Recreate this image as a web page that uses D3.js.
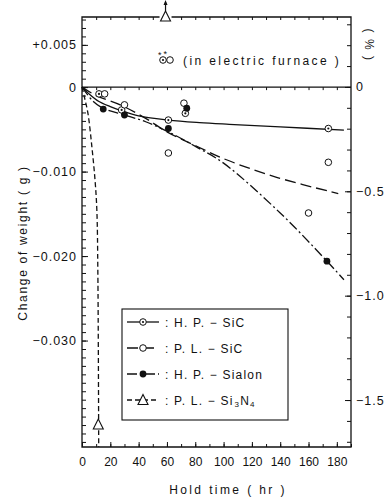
<!DOCTYPE html>
<html><head><meta charset="utf-8">
<script src="https://cdn.jsdelivr.net/npm/d3@7"></script>
<style>
body{margin:0;background:#fff}
text{font-family:"Liberation Sans",Arial,sans-serif;fill:#111}
</style>
</head><body><svg id="chart" width="388" height="500"></svg>
<script>
// Measured points: hold time (hr) and change of weight (g)
const hpSicT = [12, 28, 61, 73, 174];
const hpSicW = [-0.0008, -0.0027, -0.0039, -0.0031, -0.0049];
const plSicT = [16, 30, 61, 72, 160, 174];
const plSicW = [-0.0008, -0.0021, -0.0078, -0.0019, -0.0149, -0.0089];
const sialonT = [15, 30, 61, 74, 173];
const sialonW = [-0.0026, -0.0033, -0.0049, -0.0025, -0.0206];
const si3n4T = [11.5];
const si3n4W = [-0.0400];
const si3n4AboveT = [59];   // gain beyond the top of the scale

// Trend curves through each series
const hpSicCurveT = [0, 5, 12, 20, 28, 40, 61, 83, 104, 140, 185];
const hpSicCurveW = [0, -0.0008, -0.0017, -0.0023, -0.0028, -0.0034, -0.0039, -0.0042, -0.0044, -0.0047, -0.0051];
const plSicCurveT = [0, 10, 27, 45, 60, 81, 102, 138, 181];
const plSicCurveW = [0, -0.0010, -0.0021, -0.0037, -0.0053, -0.0070, -0.0086, -0.0107, -0.0126];
const sialonCurveT = [0, 8, 15, 30, 45, 61, 81, 100, 140, 173, 185];
const sialonCurveW = [0, -0.0017, -0.0025, -0.0033, -0.0041, -0.0053, -0.0071, -0.0090, -0.0149, -0.0206, -0.0228];
const si3n4CurveT = [0, 2, 4.2, 7, 9.2, 10.5, 11.2, 11.8];
const si3n4CurveW = [0, -0.0014, -0.0031, -0.0071, -0.0110, -0.0146, -0.0220, -0.0426];

// Axis ticks
const xTickLabels = [0, 20, 40, 60, 80, 100, 120, 140, 160, 180];
const yTickLabels = [0.005, 0, -0.010, -0.020, -0.030];
const pctTickLabels = [0, -0.5, -1.0, -1.5];

const legendNames = ["H. P. − SiC", "P. L. − SiC", "H. P. − Sialon", "P. L. − Si3N4"];

const svg = d3.select("#chart");
const L = 82, R = 351, T = 17, B = 447;

const x = d3.scaleLinear().domain([0, 190]).range([L, R]);
const y = d3.scaleLinear().domain([-0.0426, 0.0083]).range([B, T]);
const pct = d3.scaleLinear().domain([-1.725, 0.335]).range([B, T]);

const zip = (ts, ws) => ts.map((t, i) => ({t, w: ws[i]}));

// frame (top edge interrupted by the off-scale marker)
const gapX = x(si3n4AboveT[0]);
const frame = svg.append("g").attr("stroke", "#111").attr("stroke-width", 1.3).attr("fill", "none");
frame.append("path").attr("d", `M${gapX - 6},${T}H${L}V${B}H${R}V${T}H${gapX + 6}`);
// zero line
frame.append("line").attr("x1", L).attr("x2", R).attr("y1", y(0)).attr("y2", y(0));

function styleAxis(g) {
  g.select(".domain").remove();
  g.selectAll("line").attr("stroke", "#111").attr("stroke-width", 1);
  g.selectAll("text").attr("font-size", 12).attr("fill", "#111").attr("font-family", '"Liberation Sans",Arial,sans-serif');
}

const minorX = d3.range(0, 191, 10);
// bottom axis
svg.append("g").attr("transform", `translate(0,${B})`)
  .call(d3.axisBottom(x).tickValues(minorX).tickFormat("").tickSizeInner(-3).tickSizeOuter(0)).call(styleAxis);
svg.append("g").attr("transform", `translate(0,${B})`)
  .call(d3.axisBottom(x).tickValues(xTickLabels).tickFormat(d3.format("d")).tickSizeInner(-5).tickSizeOuter(0).tickPadding(10))
  .call(styleAxis);
// top edge ticks
svg.append("g").attr("transform", `translate(0,${T})`)
  .call(d3.axisTop(x).tickValues(minorX.filter(d => d > 0 && d < 190 && Math.abs(x(d) - gapX) > 7)).tickFormat("").tickSizeInner(-3).tickSizeOuter(0)).call(styleAxis);
// zero line ticks
svg.append("g").attr("transform", `translate(0,${y(0)})`)
  .call(d3.axisBottom(x).tickValues(minorX.filter(d => d > 0 && d < 190)).tickFormat("").tickSizeInner(3).tickSizeOuter(0)).call(styleAxis);

// left axis (g)
const minorY = d3.range(-42, 9).map(d => d / 1000);
svg.append("g").attr("transform", `translate(${L},0)`)
  .call(d3.axisLeft(y).tickValues(minorY).tickFormat("").tickSizeInner(-4).tickSizeOuter(0)).call(styleAxis);
svg.append("g").attr("transform", `translate(${L},0)`)
  .call(d3.axisLeft(y).tickValues(yTickLabels).tickSizeInner(-6).tickSizeOuter(0).tickPadding(5)
    .tickFormat(d => d === 0 ? "0" : d > 0 ? "+" + d3.format(".3f")(d) : "−" + d3.format(".3f")(-d)))
  .call(styleAxis)
  .selectAll("text").attr("font-size", 12.5).attr("letter-spacing", 1);

// right axis (%)
const minorP = d3.range(-17, 4).map(d => d / 10);
svg.append("g").attr("transform", `translate(${R},0)`)
  .call(d3.axisRight(pct).tickValues(minorP).tickFormat("").tickSizeInner(-4).tickSizeOuter(0)).call(styleAxis);
svg.append("g").attr("transform", `translate(${R},0)`)
  .call(d3.axisRight(pct).tickValues(pctTickLabels).tickSizeInner(-6).tickSizeOuter(0).tickPadding(5)
    .tickFormat(d => d === 0 ? "0" : "−" + d3.format(".1f")(-d)))
  .call(styleAxis)
  .selectAll("text").attr("font-size", 12.5).attr("letter-spacing", 1);

// axis titles
svg.append("text").attr("transform", "translate(27,243) rotate(-90)").attr("text-anchor", "middle")
  .attr("font-size", 12).attr("letter-spacing", 1.7).text("Change of weight ( g )");
svg.append("text").attr("x", 228).attr("y", 494).attr("text-anchor", "middle")
  .attr("font-size", 12).attr("letter-spacing", 2.4).text("Hold time ( hr )");
svg.append("text").attr("transform", "translate(365,45) rotate(90)").attr("text-anchor", "middle")
  .attr("font-size", 12).attr("letter-spacing", 1.5).text("( % )");

// curves
const line = d3.line().x(d => x(d.t)).y(d => y(d.w)).curve(d3.curveCatmullRom.alpha(0.5));
const curves = [
  {pts: zip(hpSicCurveT, hpSicCurveW), dash: null},
  {pts: zip(plSicCurveT, plSicCurveW), dash: "11,5"},
  {pts: zip(sialonCurveT, sialonCurveW), dash: "10,3,2,3"},
  {pts: zip(si3n4CurveT, si3n4CurveW), dash: "5,3"}
];
const plot = svg.append("g");
curves.forEach(c => {
  plot.append("path").datum(c.pts).attr("d", line).attr("fill", "none")
    .attr("stroke", "#111").attr("stroke-width", 1.3).attr("stroke-dasharray", c.dash);
});

// marker drawing
function marker(g, kind, cx, cy) {
  if (kind === "dot") {
    g.append("circle").attr("cx", cx).attr("cy", cy).attr("r", 3.3).attr("fill", "#fff").attr("stroke", "#111").attr("stroke-width", 1);
    g.append("circle").attr("cx", cx).attr("cy", cy).attr("r", 1.1).attr("fill", "#111");
  } else if (kind === "open") {
    g.append("circle").attr("cx", cx).attr("cy", cy).attr("r", 3.3).attr("fill", "#fff").attr("stroke", "#111").attr("stroke-width", 1);
  } else if (kind === "filled") {
    g.append("circle").attr("cx", cx).attr("cy", cy).attr("r", 3.4).attr("fill", "#111");
  } else if (kind === "tri") {
    g.append("path").attr("d", `M${cx},${cy - 6}L${cx + 5},${cy + 4}L${cx - 5},${cy + 4}Z`)
      .attr("fill", "#fff").attr("stroke", "#111").attr("stroke-width", 1.1);
  }
}
zip(hpSicT, hpSicW).forEach(d => marker(plot, "dot", x(d.t), y(d.w)));
zip(plSicT, plSicW).forEach(d => marker(plot, "open", x(d.t), y(d.w)));
zip(sialonT, sialonW).forEach(d => marker(plot, "filled", x(d.t), y(d.w)));
zip(si3n4T, si3n4W).forEach(d => marker(plot, "tri", x(d.t), y(d.w)));

// off-scale marker with arrow on the top edge
si3n4AboveT.forEach(t => {
  const cx = x(t);
  marker(svg, "tri", cx, T);
  svg.append("line").attr("x1", cx).attr("x2", cx).attr("y1", T - 6).attr("y2", 2).attr("stroke", "#111").attr("stroke-width", 1.2);
  svg.append("path").attr("d", `M${cx},0L${cx + 2},5L${cx - 2},5Z`).attr("fill", "#111");
});

// electric furnace note
const note = svg.append("g");
const nx = 163, ny = 60;
note.append("text").attr("x", nx - 5).attr("y", ny - 2).attr("font-size", 9).text("*");
note.append("text").attr("x", nx + 0.5).attr("y", ny - 3).attr("font-size", 9).text("*");
marker(note, "dot", nx, ny);
marker(note, "open", nx + 7, ny);
note.append("text").attr("x", 183).attr("y", 65).attr("font-size", 12).attr("letter-spacing", 2.4)
  .text("(in electric furnace )");

// legend
const lg = svg.append("g");
lg.append("rect").attr("x", 122).attr("y", 309).attr("width", 166).attr("height", 111)
  .attr("fill", "#fff").attr("stroke", "#111").attr("stroke-width", 1.1);
const kinds = ["dot", "open", "filled", "tri"];
legendNames.forEach((name, i) => {
  const ly = 322 + i * 26;
  lg.append("line").attr("x1", 127).attr("x2", 159).attr("y1", ly).attr("y2", ly)
    .attr("stroke", "#111").attr("stroke-width", 1.3).attr("stroke-dasharray", curves[i].dash);
  marker(lg, kinds[i], 143, ly + (kinds[i] === "tri" ? 0.5 : 0));
  const t = lg.append("text").attr("x", 165).attr("y", ly + 4.5).attr("font-size", 12).attr("letter-spacing", 1.2);
  if (name.includes("Si3N4")) {
    t.append("tspan").text(": P. L. − Si");
    t.append("tspan").attr("font-size", 8).attr("dy", 2).attr("dx", 1).text("3");
    t.append("tspan").attr("dy", -2).text("N");
    t.append("tspan").attr("font-size", 8).attr("dy", 2).text("4");
  } else {
    t.text(": " + name);
  }
});
</script>
</body></html>
